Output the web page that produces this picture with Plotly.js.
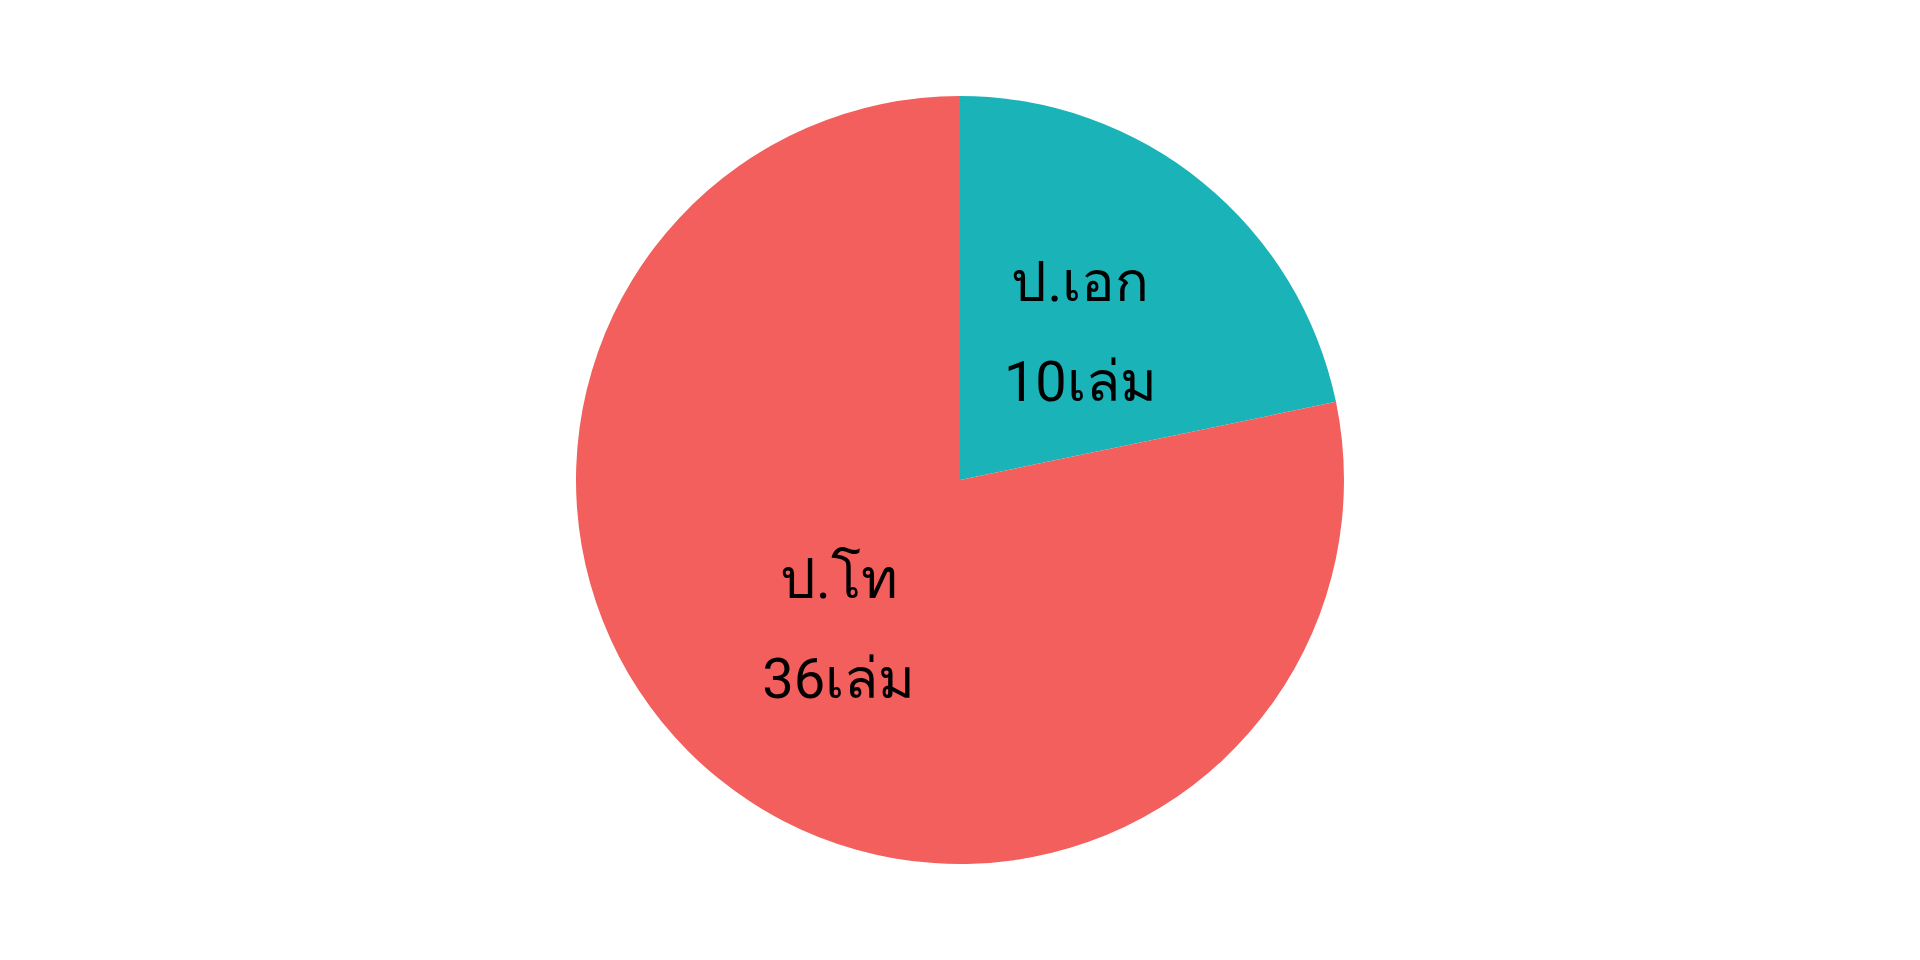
<!DOCTYPE html>
<html>
<head>
<meta charset="utf-8">
<script src="https://cdn.plot.ly/plotly-3.0.1.min.js"></script>
<style>html,body{margin:0;padding:0;background:#fff;}#chart{width:1920px;height:960px;}</style>
</head>
<body>
<div id="chart"></div>
<script>
var labels = ["ป.เอก", "ป.โท"];
var values = [10, 36];
var colors = ["#19B3B8", "#F25F5C"];
var unit = "เล่ม";

var span = "<span style='font-size:56px'>";
var tpl = span + "%{label}</span><br>" + span + "%{value}" + unit + "</span>";

var common = {
  type: "pie",
  labels: labels,
  values: values,
  sort: false,
  direction: "clockwise",
  rotation: 0,
  textposition: "inside",
  insidetextorientation: "horizontal",
  textfont: {size: 77, color: "#000000", family: "Roboto"},
  showlegend: false
};

// main pie: slices + label of the large slice
var main = Object.assign({}, common, {
  marker: {colors: colors, line: {width: 0}},
  texttemplate: ["", tpl],
  hoverinfo: "label+value"
});

// transparent overlay pie that only carries the small slice's label,
// so it sits nearer the centre as in the reference
var overlay = Object.assign({}, common, {
  marker: {colors: ["rgba(0,0,0,0)", "rgba(0,0,0,0)"], line: {width: 0}},
  texttemplate: [tpl, ""],
  hoverinfo: "skip",
  domain: {x: [0, 1], y: [0.095, 0.905]}
});

var layout = {
  width: 1920,
  height: 960,
  margin: {t: 96, b: 96, l: 80, r: 80},
  paper_bgcolor: "#ffffff",
  plot_bgcolor: "#ffffff",
  showlegend: false
};

Plotly.newPlot("chart", [main, overlay], layout, {displayModeBar: false});
</script>
</body>
</html>
